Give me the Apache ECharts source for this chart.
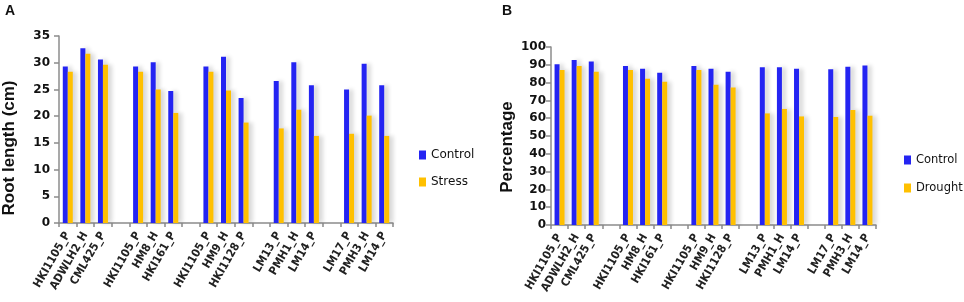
<!DOCTYPE html>
<html>
<head>
<meta charset="utf-8">
<script src="https://cdn.jsdelivr.net/npm/echarts@6/dist/echarts.min.js"></script>
<style>
  html, body { margin: 0; padding: 0; background: #fff; }
  #chart { width: 964px; height: 302px; }
</style>
</head>
<body>
<div id="chart"></div>
<script>
// categories (empty strings are the gaps between groups)
const lines = [
  'HKI1105_P', 'ADWLH2_H', 'CML425_P', '',
  'HKI1105_P', 'HM8_H', 'HKI161_P', '',
  'HKI1105_P', 'HM9_H', 'HKI1128_P', '',
  'LM13_P', 'PMH1_H', 'LM14_P', '',
  'LM17_P', 'PMH3_H', 'LM14_P'
]

// A: root length (cm)
const rootControl = [29.3, 32.7, 30.6, null, 29.3, 30.1, 24.7, null, 29.3, 31.1, 23.4, null, 26.6, 30.1, 25.8, null, 25.0, 29.8, 25.8]
const rootStress  = [28.3, 31.7, 29.6, null, 28.3, 25.0, 20.6, null, 28.3, 24.8, 18.8, null, 17.7, 21.2, 16.3, null, 16.7, 20.1, 16.3]

// B: percentage
const pctControl = [90.3, 92.7, 91.8, null, 89.3, 87.8, 85.6, null, 89.3, 87.8, 86.1, null, 88.6, 88.6, 87.8, null, 87.5, 88.9, 89.6]
const pctDrought = [87.1, 89.3, 86.1, null, 87.1, 82.2, 80.5, null, 87.1, 78.8, 77.2, null, 62.7, 65.2, 61.0, null, 60.7, 64.6, 61.4]

const BLUE = '#2424f2'
const YELLOW = '#ffc000'
const AXIS = '#8c8c8c'
const FONT = 'DejaVu Sans'

const chart = echarts.init(document.getElementById('chart'))

const xAxisBase = (gridIndex) => ({
  type: 'category',
  gridIndex,
  data: lines,
  axisLine: { lineStyle: { color: AXIS, width: 1.5 } },
  axisTick: { show: true, length: 4, lineStyle: { color: AXIS, width: 1.5 } },
  axisLabel: {
    interval: 0, rotate: 60, margin: 10,
    padding: [12, 0, 0, 0],
    fontFamily: '"DejaVu Sans Condensed", "DejaVu Sans"', fontWeight: 'bold', fontSize: 11.5, color: '#222'
  }
})

const yAxisBase = (gridIndex, max, interval, margin) => ({
  type: 'value',
  gridIndex,
  min: 0, max, interval,
  splitLine: { show: false },
  axisLine: { show: true, lineStyle: { color: AXIS, width: 1.5 } },
  axisTick: { show: true, length: 5, lineStyle: { color: AXIS, width: 1.5 } },
  axisLabel: { margin, fontFamily: FONT, fontWeight: 'bold', fontSize: 12, color: '#111' }
})

const barSeries = (name, data, color, idx) => ({
  name, type: 'bar',
  xAxisIndex: idx, yAxisIndex: idx,
  data,
  barWidth: 5,
  barGap: '0%',
  itemStyle: {
    color,
    shadowColor: 'rgba(0,0,0,0.16)',
    shadowBlur: 4,
    shadowOffsetX: 4
  }
})

chart.setOption({
  animation: false,
  grid: [
    { left: 59, top: 36, width: 334, height: 187 },
    { left: 551, top: 47, width: 325, height: 178 }
  ],
  xAxis: [xAxisBase(0), xAxisBase(1)],
  yAxis: [yAxisBase(0, 35, 5, 9), yAxisBase(1, 100, 10, 5)],
  legend: [
    {
      data: ['Control', 'Stress'],
      orient: 'vertical', left: 414, top: 144,
      itemWidth: 7, itemHeight: 9, itemGap: 15,
      icon: 'rect',
      textStyle: { fontFamily: FONT, fontSize: 12, color: '#111' }
    },
    {
      data: ['Control', 'Drought'],
      orient: 'vertical', left: 899, top: 149,
      itemWidth: 7, itemHeight: 9, itemGap: 16,
      icon: 'rect',
      textStyle: { fontFamily: FONT, fontSize: 11.5, color: '#111' }
    }
  ],
  graphic: [
    { type: 'text', left: 5, top: 4, style: { text: 'A', font: 'bold 14px "Liberation Sans"', fill: '#111' } },
    { type: 'text', left: 502, top: 4, style: { text: 'B', font: 'bold 14px "Liberation Sans"', fill: '#111' } },
    {
      type: 'text', x: 9, y: 148, rotation: Math.PI / 2,
      style: { text: 'Root length (cm)', font: 'bold 17px "Liberation Sans"', fill: '#111', align: 'center', verticalAlign: 'middle' }
    },
    {
      type: 'text', x: 507, y: 147, rotation: Math.PI / 2,
      style: { text: 'Percentage', font: 'bold 17px "Liberation Sans"', fill: '#111', align: 'center', verticalAlign: 'middle' }
    }
  ],
  series: [
    barSeries('Control', rootControl, BLUE, 0),
    barSeries('Stress', rootStress, YELLOW, 0),
    barSeries('Control', pctControl, BLUE, 1),
    barSeries('Drought', pctDrought, YELLOW, 1)
  ]
})
</script>
</body>
</html>
